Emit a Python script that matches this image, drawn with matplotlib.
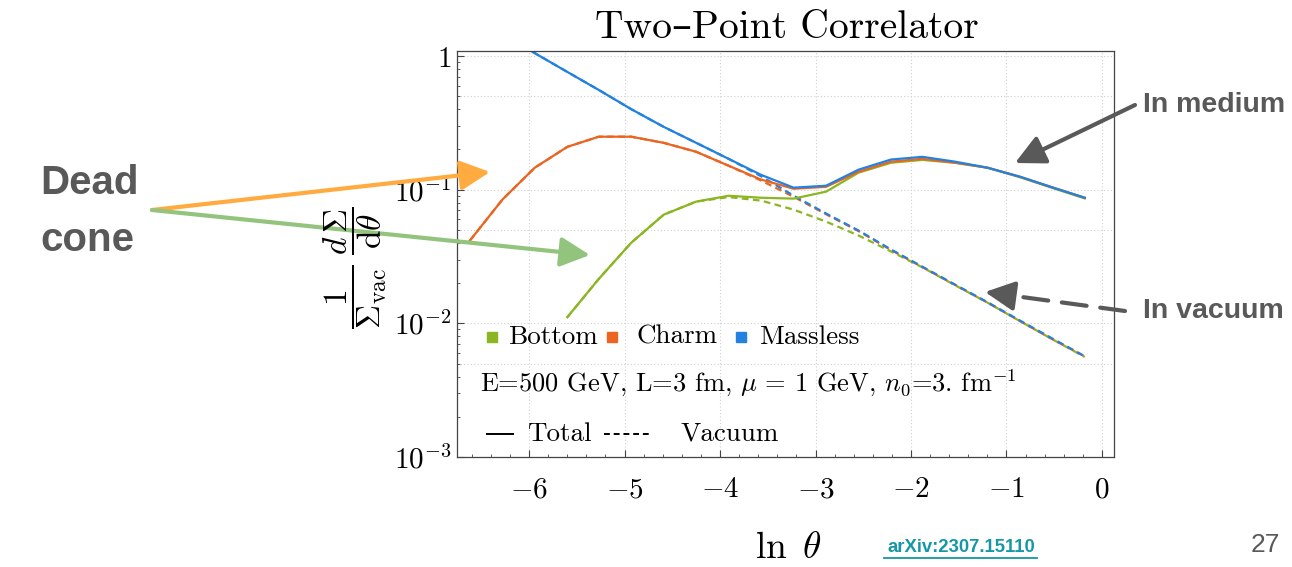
import numpy as np
import matplotlib
matplotlib.use("Agg")
import matplotlib.pyplot as plt
from matplotlib.ticker import MultipleLocator, FixedLocator, NullFormatter, LogLocator
from matplotlib.lines import Line2D

plt.rcParams['mathtext.fontset'] = 'cm'
plt.rcParams['axes.formatter.use_mathtext'] = True

# ---------------- data ----------------
ln_theta = [-6.62, -6.28, -5.94, -5.60, -5.27, -4.93, -4.59, -4.25, -3.91, -3.57,
            -3.23, -2.89, -2.55, -2.21, -1.88, -1.54, -1.20, -0.86, -0.52, -0.18]
nan = np.nan
massless_total = [2.02, 1.46, 1.05, 0.76, 0.557, 0.40, 0.295, 0.224, 0.170, 0.129,
                  0.1035, 0.107, 0.141, 0.168, 0.176, 0.162, 0.146, 0.125, 0.104, 0.087]
massless_vac = [2.02, 1.46, 1.05, 0.76, 0.557, 0.40, 0.295, 0.224, 0.170, 0.126,
                0.0902, 0.0663, 0.0495, 0.0357, 0.0265, 0.0195, 0.0144, 0.0105, 0.0077, 0.00567]
charm_total = [0.0416, 0.0842, 0.146, 0.209, 0.249, 0.249, 0.224, 0.192, 0.151, 0.119,
               0.1016, 0.105, 0.136, 0.162, 0.170, 0.159, 0.146, 0.125, 0.104, 0.087]
charm_vac = [0.0416, 0.0842, 0.146, 0.209, 0.249, 0.249, 0.224, 0.192, 0.151, 0.117,
             0.0885, 0.0655, 0.049, 0.0354, 0.0263, 0.0194, 0.0143, 0.0104, 0.0076, 0.00565]
bottom_total = [nan, nan, nan, 0.0111, 0.0215, 0.0401, 0.065, 0.0814, 0.090, 0.087,
                0.0857, 0.0966, 0.134, 0.159, 0.167, 0.159, 0.146, 0.124, 0.103, 0.086]
bottom_vac = [nan, nan, nan, 0.0111, 0.0215, 0.0401, 0.065, 0.0814, 0.088, 0.0828,
              0.0709, 0.0577, 0.0454, 0.0345, 0.0262, 0.0193, 0.0143, 0.0104, 0.0076, 0.0056]

series_names = ["Bottom", "Charm", "Massless"]
x_ticks = [-6, -5, -4, -3, -2, -1, 0]
x_ticklabels = [r'$-6$', r'$-5$', r'$-4$', r'$-3$', r'$-2$', r'$-1$', r'$0$']
y_ticks = [1e-3, 1e-2, 1e-1, 1]
y_ticklabels = [r'$10^{-3}$', r'$10^{-2}$', r'$10^{-1}$', r'$1$']
y_grid = [1, 0.5, 0.1, 0.05, 0.01, 0.005]

c_bottom = '#8BB521'
c_charm = '#EB6420'
c_mass = '#2381E0'

W, H = 1292, 567
fig = plt.figure(figsize=(W / 100, H / 100), dpi=100)
ax = fig.add_axes([457 / W, 1 - 457 / H, 657 / W, 406 / H])
ax.set_yscale('log')
ax.set_xlim(-6.755, 0.126)
ax.set_ylim(1e-3, 10 ** (5 / 134))

# grid
for gx in x_ticks:
    ax.axvline(gx, color='#d0d0d0', lw=0.8, ls=(0, (1, 2)), zorder=0)
for gy in y_grid:
    ax.axhline(gy, color='#d0d0d0', lw=0.8, ls=(0, (1, 2)), zorder=0)

lw = 1.6
dash = (0, (3, 2))
ax.plot(ln_theta, bottom_vac, color=c_bottom, lw=lw, ls=dash)
ax.plot(ln_theta, charm_vac, color=c_charm, lw=lw, ls=dash)
ax.plot(ln_theta, massless_vac, color=c_mass, lw=lw, ls=(2.5, (3, 2)))
ax.plot(ln_theta, bottom_total, color=c_bottom, lw=lw)
ax.plot(ln_theta, charm_total, color=c_charm, lw=lw)
ax.plot(ln_theta, massless_total, color=c_mass, lw=lw)

# ticks
ax.set_xticks(x_ticks)
ax.set_xticklabels(x_ticklabels)
ax.xaxis.set_minor_locator(MultipleLocator(0.2))
ax.yaxis.set_major_locator(FixedLocator(y_ticks))
ax.set_yticklabels(y_ticklabels)
ax.yaxis.set_minor_locator(LogLocator(base=10, subs=np.arange(2, 10)))
ax.yaxis.set_minor_formatter(NullFormatter())
ax.tick_params(which='both', direction='in', top=False, right=False, color='#444444')
ax.tick_params(which='major', length=5, width=0.8, labelsize=21)
ax.tick_params(which='minor', length=2.5, width=0.6)
ax.tick_params(axis='x', which='major', pad=13)
ax.tick_params(axis='y', which='major', pad=4)
for s in ax.spines.values():
    s.set_color('#444444')
    s.set_linewidth(0.9)

# in-plot legend
fs_leg = 19.5
ly1 = 0.296
for cx, tx, col, name in [(0.053, 0.078, c_bottom, series_names[0]),
                          (0.236, 0.273, c_charm, series_names[1]),
                          (0.432, 0.459, c_mass, series_names[2])]:
    ax.plot([cx], [ly1], 's', color=col, ms=7, transform=ax.transAxes, clip_on=False)
    ax.text(tx, ly1, name, transform=ax.transAxes, fontsize=fs_leg, family='cmr10',
            va='center', ha='left')
ax.text(0.035, 0.182, r'E=500 GeV, L=3 fm, $\mu$ = 1 GeV, $n_0$=3. fm$^{-1}$',
        transform=ax.transAxes, fontsize=fs_leg - 0.5, family='cmr10', va='center', ha='left')
ly3 = 0.057
ax.plot([0.046, 0.085], [ly3, ly3], color='black', lw=1.4, transform=ax.transAxes)
ax.text(0.107, ly3, 'Total', transform=ax.transAxes, fontsize=fs_leg, family='cmr10',
        va='center', ha='left')
ax.plot([0.224, 0.297], [ly3, ly3], color='black', lw=1.4, ls=(0, (3, 2)), transform=ax.transAxes)
ax.text(0.340, ly3, 'Vacuum', transform=ax.transAxes, fontsize=fs_leg, family='cmr10',
        va='center', ha='left')

# title and axis labels
fig.text(787 / W, 1 - 28 / H, 'Two–Point Correlator', family=['cmr10', 'DejaVu Serif'],
         fontsize=28.5, ha='center', va='center')
fig.text(788 / W, 1 - 548 / H, r'$\ln\ \theta$', fontsize=27, ha='center', va='center')
fig.text(355 / W, 1 - 268 / H, r'$\dfrac{1}{\Sigma_{\mathrm{vac}}}\;\dfrac{d\,\Sigma}{\mathrm{d}\theta}$',
         fontsize=24, rotation=90, ha='center', va='center')

# slide annotations
gray = '#595959'
fig.text(40 / W, 1 - 183 / H, 'Dead', family='Liberation Sans', weight='bold', fontsize=29,
         color=gray, va='center', ha='left')
fig.text(40 / W, 1 - 240 / H, 'cone', family='Liberation Sans', weight='bold', fontsize=29,
         color=gray, va='center', ha='left')
fig.text(1143 / W, 1 - 105 / H, 'In medium', family='Liberation Sans', weight='bold',
         fontsize=20.5, color=gray, va='center', ha='left')
fig.text(1143 / W, 1 - 311 / H, 'In vacuum', family='Liberation Sans', weight='bold',
         fontsize=20.5, color=gray, va='center', ha='left')
fig.text(1280 / W, 1 - 545 / H, '27', family='Liberation Sans', fontsize=19,
         color=gray, va='center', ha='right')
link_col = '#1597A6'
fig.text(887 / W, 1 - 548 / H, 'arXiv:2307.15110', family='Liberation Sans', weight='bold',
         fontsize=13.3, color=link_col, va='center', ha='left')
fig.add_artist(Line2D([884 / W, 1037 / W], [1 - 558 / H, 1 - 558 / H], color=link_col,
                      lw=1.3, transform=fig.transFigure))


def arrow(p0, p1, col, lw=3, dashed=False):
    x0, y0 = p0
    x1, y1 = p1
    st = '-|>,head_length=1.8,head_width=0.9'
    if dashed:
        d = np.hypot(x1 - x0, y1 - y0)
        ux, uy = (x1 - x0) / d, (y1 - y0) / d
        mx, my = x1 - ux * 26, y1 - uy * 26
        ax.annotate('', xy=(mx, H - my), xycoords='figure pixels',
                    xytext=(x0, H - y0), textcoords='figure pixels',
                    arrowprops=dict(arrowstyle='-', color=col, lw=lw,
                                    ls=(0, (6, 3.3)), shrinkA=0, shrinkB=0),
                    annotation_clip=False)
        ax.annotate('', xy=(x1, H - y1), xycoords='figure pixels',
                    xytext=(mx - ux * 2, H - my + uy * 2), textcoords='figure pixels',
                    arrowprops=dict(arrowstyle=st, color=col, lw=lw, shrinkA=0, shrinkB=0,
                                    mutation_scale=10),
                    annotation_clip=False)
    else:
        ax.annotate('', xy=(x1, H - y1), xycoords='figure pixels',
                    xytext=(x0, H - y0), textcoords='figure pixels',
                    arrowprops=dict(arrowstyle=st, color=col, lw=lw, shrinkA=0, shrinkB=0,
                                    mutation_scale=10),
                    annotation_clip=False)


arrow((152, 210), (490, 172), '#FFAB40', lw=3)
arrow((152, 210), (590, 255), '#93C47D', lw=3)
arrow((1135, 105), (1015, 163), '#595959', lw=3)
arrow((1125, 311), (985, 292), '#595959', lw=3, dashed=True)

fig.savefig('out.png', dpi=100)
